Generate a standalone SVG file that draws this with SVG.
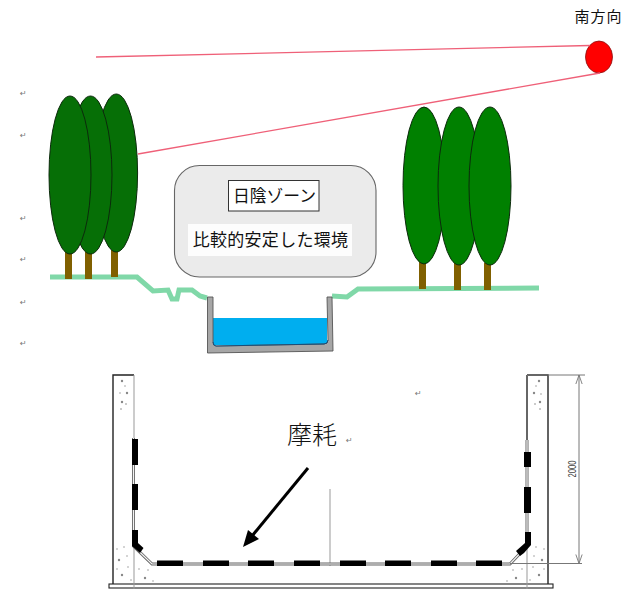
<svg xmlns="http://www.w3.org/2000/svg" width="630" height="589" viewBox="0 0 630 589">
  <style>
    .jp { font-family: "Noto Sans CJK JP", "Liberation Sans", sans-serif; fill: #111; }
    .crown { fill: #008000; stroke: #0c2a0c; stroke-width: 1; }
    .crown-dark { fill: #066f06; stroke: #0c2a0c; stroke-width: 1; }
    .trunk { fill: #806000; }
    .ground { fill: none; stroke: #80d8a8; stroke-width: 5; stroke-linejoin: miter; }
    .ray { stroke: #ef6078; stroke-width: 1.3; fill: none; }
    .mark { font-family: "DejaVu Sans", sans-serif; font-size: 8px; fill: #777; }
    .wall { fill: none; stroke: #222; stroke-width: 1.4; }
    .thin { fill: none; stroke: #999; stroke-width: 1; }
    .dim { fill: none; stroke: #777; stroke-width: 1; }
    .wear { fill: #000; }
    .dots circle { fill: #888; }
  </style>
  <defs>
    <marker id="dimEnd" viewBox="0 0 10 10" refX="10" refY="5" markerWidth="11" markerHeight="9" orient="auto-start-reverse" markerUnits="userSpaceOnUse">
      <path d="M0 1.5 L10 5 L0 8.5" fill="none" stroke="#777" stroke-width="1"/>
    </marker>
  </defs>

  <rect width="630" height="589" fill="#fff"/>

  <!-- paragraph marks -->
  <g id="paragraph-marks">
    <text class="mark" x="20" y="96">↵</text>
    <text class="mark" x="20" y="138">↵</text>
    <text class="mark" x="20" y="221">↵</text>
    <text class="mark" x="20" y="262">↵</text>
    <text class="mark" x="20" y="305">↵</text>
    <text class="mark" x="20" y="346">↵</text>
    <text class="mark" x="415" y="396">↵</text>
    <text class="mark" x="346" y="443">↵</text>
  </g>

  <g id="ground-left">
    <polyline class="ground" points="50,277 137,277 153,291 168,290 172,299 177,299 179,290 192,290 200,296 207,298"/>
  </g>
  <g id="ground-right">
    <polyline class="ground" points="332,296 347,297 358,289 539,288"/>
  </g>

  <g id="trees-left">
    <rect class="trunk" x="65" y="252" width="7" height="27"/>
    <rect class="trunk" x="85" y="252" width="7" height="27"/>
    <rect class="trunk" x="111" y="250" width="7" height="27"/>
    <ellipse class="crown-dark" cx="116.300" cy="173" rx="21.300" ry="79"/>
    <ellipse class="crown-dark" cx="90.500" cy="175" rx="21.500" ry="79"/>
    <ellipse class="crown-dark" cx="70" cy="175" rx="21" ry="79"/>
  </g>

  <g id="trees-right">
    <rect class="trunk" x="419" y="262" width="7" height="27"/>
    <rect class="trunk" x="454" y="263" width="7" height="27"/>
    <rect class="trunk" x="484" y="263" width="7" height="27"/>
    <ellipse class="crown" cx="424" cy="185.500" rx="21" ry="78.500"/>
    <ellipse class="crown" cx="459" cy="186" rx="21" ry="79"/>
    <ellipse class="crown" cx="490" cy="186" rx="21" ry="79"/>
  </g>

  <g id="sun">
    <ellipse cx="599" cy="57" rx="13.500" ry="16" fill="#ff0000" stroke="#8a1010" stroke-width="0.8"/>
    <text class="jp" x="598.500" y="22" font-size="15" text-anchor="middle" letter-spacing="1">南方向</text>
  </g>

  <g id="shade-zone">
    <rect x="174.500" y="165.500" width="201.500" height="111.500" rx="25" fill="#ebebeb" stroke="#666" stroke-width="1.100"/>
    <rect x="228.500" y="180.500" width="90.500" height="30.500" fill="#fff" stroke="#333" stroke-width="1"/>
    <text class="jp" x="274.500" y="202" font-size="16.800" text-anchor="middle">日陰ゾーン</text>
    <rect x="188" y="224" width="164" height="32" fill="#fff" opacity="0.900"/>
    <text class="jp" x="270.500" y="246" font-size="17" text-anchor="middle" letter-spacing="0.300">比較的安定した環境</text>
  </g>

  <g id="channel">
    <rect x="213" y="318" width="114" height="27" fill="#00aeef"/>
    <path d="M207.500 297 H213 V342 Q213 346 216 346 L324 344 Q328 344 328 340 L327 297 H332 L333 351 L207.500 353 Z" fill="#a6a6a6" stroke="#555" stroke-width="0.9"/>
    <path d="M213 342 Q213 346 216 346 L324 344 Q328 344 328 340" fill="none" stroke="#1a4f7a" stroke-width="1"/>
  </g>

  <g id="flume-section">
    <path class="wall" d="M134 375 H113 V584"/>
    <path class="wall" d="M527 375 H548 V584"/>
    <rect x="109" y="584" width="444" height="4" fill="#fff" stroke="#222" stroke-width="1.100"/>
    <path d="M134 375 V589 M527 375 V589" class="thin"/>
    <line x1="527" y1="375" x2="527" y2="452" stroke="#666" stroke-width="2"/>
    <line x1="330" y1="489" x2="330" y2="566" class="thin"/>
    <g class="dots">
      <circle cx="122" cy="381" r="1.200"/><circle cx="125" cy="386" r="0.700"/><circle cx="120" cy="393" r="0.700"/><circle cx="127" cy="393" r="1.200"/><circle cx="122" cy="402" r="1.200"/><circle cx="126" cy="404" r="0.800"/><circle cx="121" cy="409" r="0.800"/>
      <circle cx="117" cy="549" r="0.700"/><circle cx="124" cy="547" r="0.700"/><circle cx="127" cy="556" r="0.700"/><circle cx="119" cy="560" r="1.200"/><circle cx="117" cy="569" r="0.700"/><circle cx="128" cy="567" r="0.700"/><circle cx="122" cy="575" r="1.200"/><circle cx="131" cy="580" r="0.700"/><circle cx="139" cy="569" r="0.700"/><circle cx="148" cy="570" r="0.700"/><circle cx="145" cy="578" r="1.200"/><circle cx="153" cy="581" r="0.700"/>
      <circle cx="539" cy="381" r="1.200"/><circle cx="536" cy="386" r="0.700"/><circle cx="534" cy="393" r="1.200"/><circle cx="541" cy="394" r="0.700"/><circle cx="540" cy="402" r="1.200"/><circle cx="535" cy="404" r="0.800"/><circle cx="540" cy="409" r="0.800"/>
      <circle cx="536" cy="547" r="0.700"/><circle cx="544" cy="549" r="0.700"/><circle cx="534" cy="556" r="0.700"/><circle cx="542" cy="560" r="1.200"/><circle cx="544" cy="569" r="0.700"/><circle cx="533" cy="567" r="0.700"/><circle cx="539" cy="575" r="1.200"/><circle cx="530" cy="580" r="0.700"/><circle cx="522" cy="569" r="0.700"/><circle cx="513" cy="570" r="0.700"/><circle cx="516" cy="578" r="1.200"/><circle cx="507" cy="581" r="0.700"/>
    </g>
    <!-- lining: a dark line with a light core reads as a double line -->
    <path d="M133.500 438 V546 L152 564 H510 L527 546 V440" fill="none" stroke="#666" stroke-width="3"/>
    <path d="M133.500 438 V546 L152 564 H510 L527 546 V440" fill="none" stroke="#f4f4f4" stroke-width="1.200"/>
    <!-- worn sections -->
    <g class="wear">
      <rect x="132" y="439" width="6" height="26"/>
      <rect x="132" y="484" width="6" height="26"/>
      <path d="M132 530 H138 V543 L143.500 548 L140 553 L132 546 Z"/>
      <rect x="157" y="560.500" width="26" height="5.500"/>
      <rect x="203" y="560.500" width="26" height="5.500"/>
      <rect x="248" y="560.500" width="26" height="5.500"/>
      <rect x="294" y="560.500" width="26" height="5.500"/>
      <rect x="340" y="560.500" width="26" height="5.500"/>
      <rect x="385" y="560.500" width="26" height="5.500"/>
      <rect x="431" y="560.500" width="26" height="5.500"/>
      <rect x="476" y="560.500" width="26" height="5.500"/>
      <rect x="524" y="452" width="7" height="15"/>
      <rect x="524" y="487" width="7" height="26"/>
      <path d="M525 532 H531 V545 L524 553 L520 556 L516 551 L525 543 Z"/>
    </g>
    <text class="jp" x="287" y="444" font-size="25" font-weight="300">摩耗</text>
    <text x="0" y="0" transform="translate(575.500 469) rotate(-90)" font-family="Liberation Sans, sans-serif" font-size="10.500" fill="#444" text-anchor="middle" textLength="17" lengthAdjust="spacingAndGlyphs">2000</text>
  </g>

  <g id="connectors">
    <line class="ray" x1="96" y1="57" x2="590" y2="45.500"/>
    <line class="ray" x1="138" y1="154" x2="600" y2="73"/>
    <line x1="308" y1="468" x2="252" y2="536" stroke="#000" stroke-width="3"/>
    <polygon points="243,547 248,530 259,539" fill="#000"/>
    <line class="dim" x1="527" y1="375" x2="585" y2="375"/>
    <line class="dim" x1="510" y1="563.500" x2="582" y2="563.500"/>
    <line class="dim" x1="579" y1="375" x2="579" y2="563.500" marker-start="url(#dimEnd)" marker-end="url(#dimEnd)"/>
  </g>
</svg>
